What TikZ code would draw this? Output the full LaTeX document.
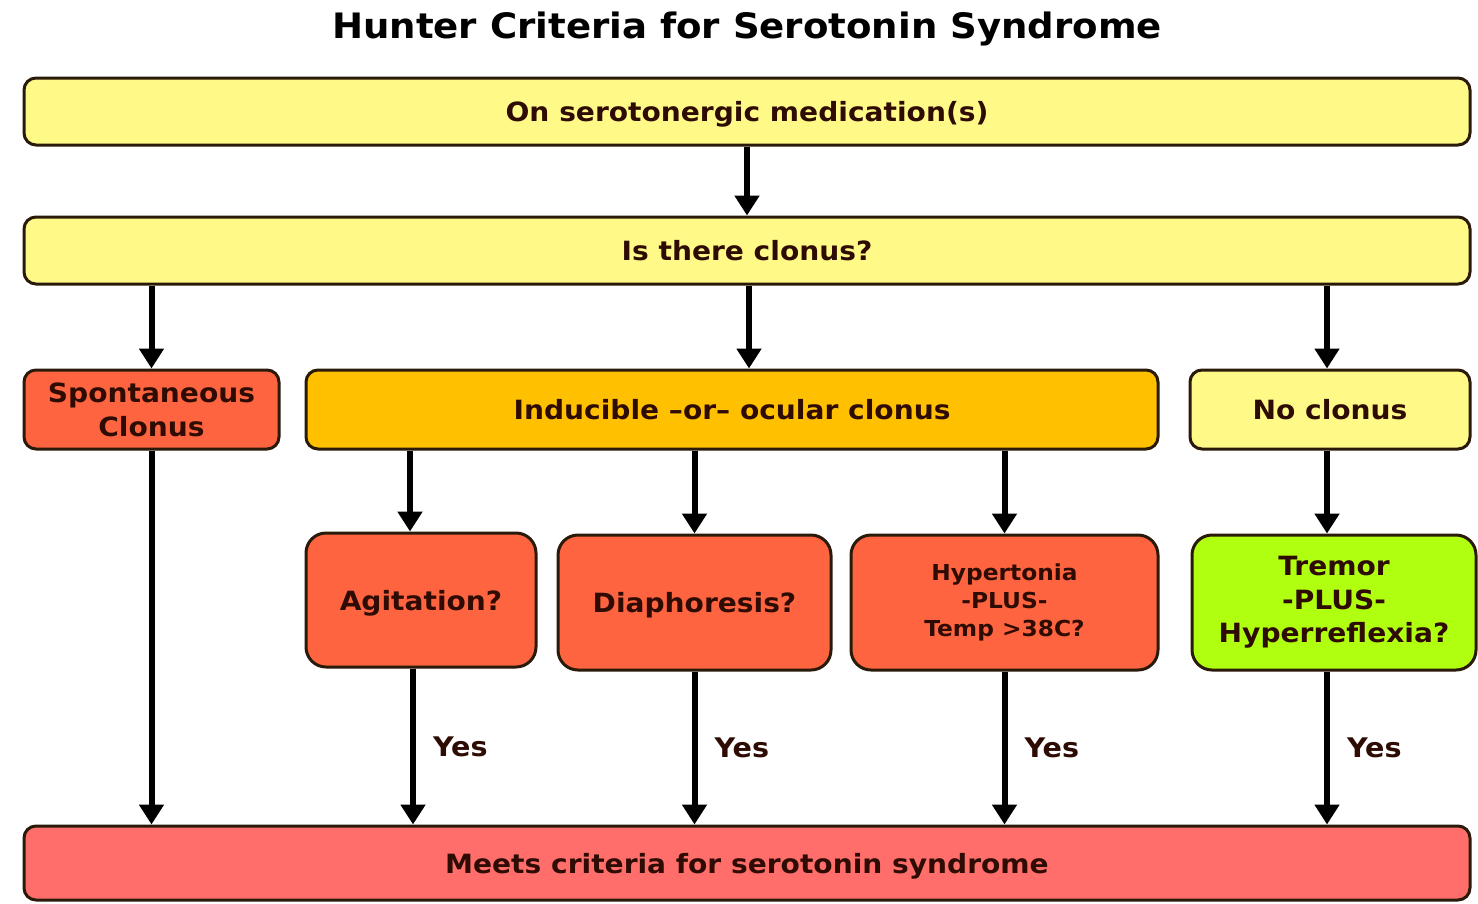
\documentclass[tikz,border=0pt]{standalone}
\usepackage{fontspec}
\setmainfont[FakeStretch=1.06]{DejaVu Sans}
\usetikzlibrary{arrows.meta,calc}
\definecolor{txt}{HTML}{2E0C04}
\definecolor{edge}{HTML}{2A1A0A}
\definecolor{pale}{HTML}{FFFA88}
\definecolor{amber}{HTML}{FFC000}
\definecolor{tomato}{HTML}{FF6440}
\definecolor{lime}{HTML}{B0FF10}
\definecolor{salmon}{HTML}{FF6E6A}
\begin{document}
\begin{tikzpicture}[x=1pt,y=-1pt,
  box/.style={draw=edge,line width=3pt,rounded corners=12pt,inner sep=0pt,
    text=txt,font=\bfseries\fontsize{26.5}{31}\selectfont,align=center},
  oneline/.style={text depth=0pt},
  bigbox/.style={box,rounded corners=20pt},
  arr/.style={line width=6pt,-{Triangle[width=24pt,length=20pt]},black},
  yes/.style={text=txt,font=\bfseries\fontsize{27}{31}\selectfont,anchor=west,inner sep=0pt}]
\useasboundingbox (0,0) rectangle (1478,903);
\fill[white] (0,0) rectangle (1478,903);
\node[font=\bfseries\fontsize{35}{40}\selectfont,text=black,text depth=0pt] (title) at (747,25) {Hunter Criteria for Serotonin Syndrome};
\node[box,oneline,fill=pale,minimum width=1446pt,minimum height=67pt] (b1) at (747,111.5) {On serotonergic medication(s)};
\node[box,oneline,fill=pale,minimum width=1446pt,minimum height=67pt] (b2) at (747,250.5) {Is there clonus?};
\node[box,fill=tomato,minimum width=255pt,minimum height=79pt,font=\bfseries\fontsize{26.5}{34}\selectfont] (sp) at (151.5,409.5) {Spontaneous\\Clonus};
\node[box,oneline,fill=amber,minimum width=852pt,minimum height=79pt] (ind) at (732,409.5) {Inducible --or-- ocular clonus};
\node[box,oneline,fill=pale,minimum width=280pt,minimum height=79pt] (nc) at (1330,409.5) {No clonus};
\node[bigbox,oneline,fill=tomato,minimum width=230pt,minimum height=134pt] (ag) at (421,600) {Agitation?};
\node[bigbox,oneline,fill=tomato,minimum width=273pt,minimum height=135pt] (di) at (694.5,602.5) {Diaphoresis?};
\node[bigbox,fill=tomato,minimum width=307pt,minimum height=135pt,font=\bfseries\fontsize{22}{28}\selectfont] (hy) at (1004.5,602.5) {Hypertonia\\-PLUS-\\Temp >38C?};
\node[bigbox,fill=lime,minimum width=284pt,minimum height=135pt,font=\bfseries\fontsize{26.5}{33.5}\selectfont] (tr) at (1334,602.5) {Tremor\\-PLUS-\\Hyperreflexia?};
\node[box,oneline,fill=salmon,minimum width=1446pt,minimum height=74pt] (bot) at (747,863) {Meets criteria for serotonin syndrome};
\draw[arr] (b1.south) -- (b2.north -| b1.south);
\draw[arr] (b2.south -| sp.north) -- (sp.north);
\draw[arr] (b2.south -| 749,0) -- (ind.north -| 749,0);
\draw[arr] (b2.south -| 1327,0) -- (nc.north -| 1327,0);
\draw[arr] (ind.south -| 410,0) -- (ag.north -| 410,0);
\draw[arr] (ind.south -| di.north) -- (di.north);
\draw[arr] (ind.south -| hy.north) -- (hy.north);
\draw[arr] (nc.south -| 1327,0) -- (tr.north -| 1327,0);
\draw[arr] (sp.south) -- (bot.north -| sp.south);
\draw[arr] (ag.south -| 413,0) -- (bot.north -| 413,0) node[yes,pos=0.5,xshift=17pt] (y1) {Yes};
\draw[arr] (di.south) -- (bot.north -| di.south) node[yes,pos=0.5,xshift=17pt] (y2) {Yes};
\draw[arr] (hy.south) -- (bot.north -| hy.south) node[yes,pos=0.5,xshift=17pt] (y3) {Yes};
\draw[arr] (tr.south -| 1327,0) -- (bot.north -| 1327,0) node[yes,pos=0.5,xshift=17pt] (y4) {Yes};
\end{tikzpicture}
\end{document}
